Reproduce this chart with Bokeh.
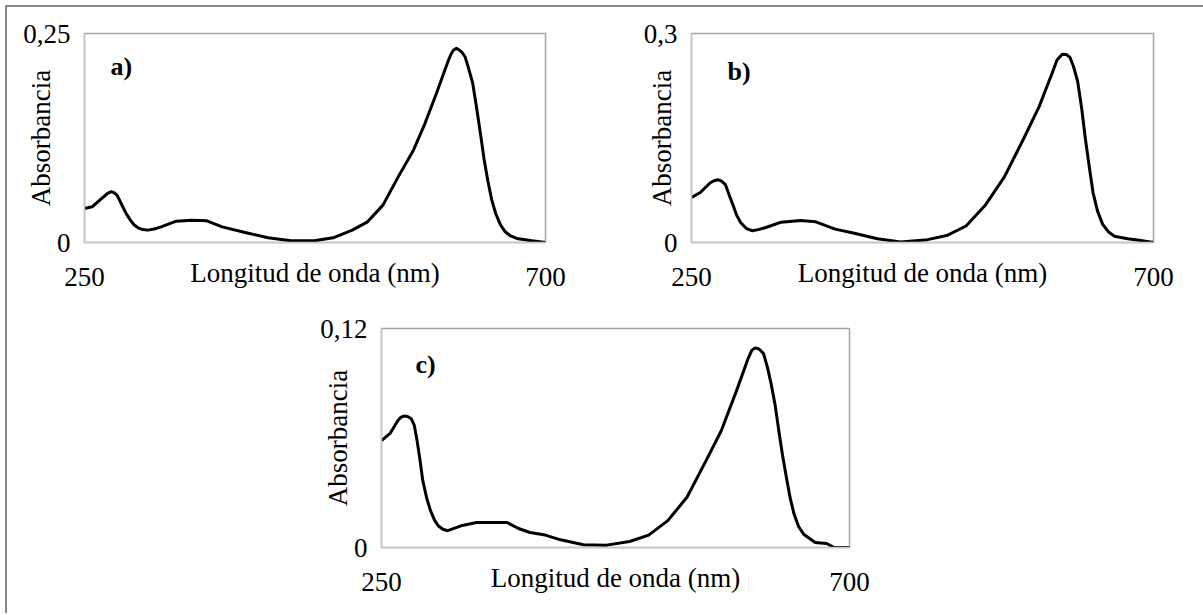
from bokeh.plotting import figure
from bokeh.models import Range1d, FixedTicker, Label, Spacer
from bokeh.layouts import row, column
from bokeh.embed import file_html
from bokeh.resources import INLINE

# ---------------- data ----------------
wl_a = [250.0, 257.5, 264.9, 272.4, 275.0, 276.9, 279.0, 281.7, 284.5, 287.3, 291.0, 294.8,
        298.5, 302.3, 307.0, 311.6, 318.0, 324.7, 339.6, 354.6, 369.5, 384.4, 406.8, 429.2,
        451.6, 474.0, 492.7, 511.4, 526.3, 541.3, 556.2, 571.1, 582.3, 593.5, 604.7, 607.8,
        610.3, 613.0, 615.9, 618.5, 621.5, 625.0, 629.0, 632.5, 636.5, 640.0, 643.9, 647.5,
        651.4, 656.0, 660.7, 666.0, 671.9, 686.9, 700.0]
abs_a = [0.0407, 0.0427, 0.0507, 0.0586, 0.0603, 0.0606, 0.0595, 0.0567, 0.0500, 0.0427,
         0.0340, 0.0267, 0.0210, 0.0176, 0.0155, 0.0148, 0.0162, 0.0187, 0.0255, 0.0267,
         0.0259, 0.0187, 0.0120, 0.0056, 0.0020, 0.0020, 0.0056, 0.0148, 0.0247, 0.0447,
         0.0785, 0.1104, 0.1423, 0.1783, 0.2162, 0.2255, 0.2302, 0.2322, 0.2302, 0.2275,
         0.2222, 0.2080, 0.1903, 0.1630, 0.1305, 0.1000, 0.0726, 0.0510, 0.0347, 0.0210,
         0.0128, 0.0078, 0.0048, 0.0020, 0.0]

wl_b = [250.0, 258.6, 268.0, 272.0, 275.5, 279.0, 283.0, 286.5, 290.5, 294.0, 298.0, 303.5,
        309.3, 315.0, 322.4, 337.4, 356.1, 371.1, 389.9, 408.6, 431.1, 453.6, 479.9, 498.6,
        517.4, 536.1, 554.9, 573.6, 588.6, 601.8, 606.0, 611.1, 615.0, 618.6, 622.0, 626.1,
        630.0, 633.6, 637.5, 641.1, 645.5, 650.5, 656.0, 661.8, 674.9, 686.1, 700.0]
abs_b = [0.0648, 0.0717, 0.0854, 0.0887, 0.0900, 0.0885, 0.0831, 0.0690, 0.0534, 0.0390,
         0.0283, 0.0200, 0.0169, 0.0185, 0.0215, 0.0292, 0.0315, 0.0297, 0.0192, 0.0132,
         0.0055, 0.0009, 0.0041, 0.0100, 0.0237, 0.0534, 0.0945, 0.1493, 0.1950, 0.2452,
         0.2620, 0.2703, 0.2700, 0.2658, 0.2530, 0.2315, 0.1930, 0.1493, 0.1080, 0.0717,
         0.0450, 0.0260, 0.0155, 0.0091, 0.0055, 0.0032, 0.0]

wl_c = [250.0, 258.5, 265.8, 268.5, 271.3, 275.0, 278.7, 281.5, 284.2, 287.0, 289.7, 293.5,
        297.1, 301.0, 304.5, 309.0, 313.7, 326.5, 341.3, 356.0, 370.7, 381.7, 392.8, 407.5,
        422.2, 444.3, 466.4, 488.5, 506.9, 525.3, 543.7, 562.1, 576.8, 591.5, 602.5, 606.0,
        609.2, 613.0, 617.3, 621.0, 624.6, 628.5, 632.0, 635.5, 639.3, 643.0, 646.7, 651.0,
        655.9, 667.0, 678.0, 685.3, 700.0]
abs_c = [0.0586, 0.0627, 0.0696, 0.0713, 0.0720, 0.0718, 0.0705, 0.0670, 0.0586, 0.0480,
         0.0366, 0.0270, 0.0202, 0.0150, 0.0119, 0.0100, 0.0092, 0.0119, 0.0137, 0.0137,
         0.0137, 0.0104, 0.0082, 0.0068, 0.0042, 0.0015, 0.0013, 0.0033, 0.0068, 0.0147,
         0.0275, 0.0476, 0.0641, 0.0861, 0.1035, 0.1080, 0.1094, 0.1088, 0.1063, 0.0990,
         0.0898, 0.0780, 0.0641, 0.0510, 0.0385, 0.0270, 0.0183, 0.0115, 0.0073, 0.0027,
         0.0022, 0.0, 0.0]

panel_tags = ["a)", "b)", "c)"]
y_max = [0.25, 0.3, 0.12]
y_max_labels = ["0,25", "0,3", "0,12"]
x_ticks = [250, 700]
x_tick_labels = ["250", "700"]
x_title = "Longitud de onda (nm)"
y_title = "Absorbancia"

FONT = "Liberation Serif"
FS = "27px"


def make_panel(wl, ab, ymax, ymax_label, tag, tag_x, tag_y,
               width, height, bl, br, bt, bb):
    p = figure(width=width, height=height, output_backend="svg", toolbar_location=None,
               x_range=Range1d(250, 700), y_range=Range1d(0, ymax),
               min_border_left=bl, min_border_right=br,
               min_border_top=bt, min_border_bottom=bb,
               background_fill_color="white", border_fill_color="white")
    p.line(wl, ab, line_color="black", line_width=3, line_join="round")
    p.grid.visible = False
    p.outline_line_color = "#a6a6a6"
    p.outline_line_width = 1.5

    for ax in (p.xaxis[0], p.yaxis[0]):
        ax.major_tick_out = 0
        ax.major_tick_in = 0
        ax.minor_tick_out = 0
        ax.minor_tick_in = 0
        ax.axis_line_color = "#c8c8c8"
        ax.axis_line_width = 1.5
        ax.major_label_text_font = FONT
        ax.major_label_text_font_size = FS
        ax.major_label_text_color = "black"
        ax.axis_label_text_font = FONT
        ax.axis_label_text_font_size = FS
        ax.axis_label_text_font_style = "normal"
        ax.axis_label_text_color = "black"

    xa = p.xaxis[0]
    xa.ticker = FixedTicker(ticks=x_ticks)
    xa.major_label_overrides = {x_ticks[0]: x_tick_labels[0], x_ticks[1]: x_tick_labels[1]}
    xa.major_label_standoff = 25
    xa.axis_label = x_title
    xa.axis_label_standoff = -31

    ya = p.yaxis[0]
    ya.ticker = FixedTicker(ticks=[0, ymax])
    ya.major_label_overrides = {0: "0", ymax: ymax_label}
    ya.major_label_standoff = 14
    ya.axis_label = y_title
    ya.axis_label_standoff = -36

    p.add_layout(Label(x=tag_x, y=tag_y, text=tag, text_font=FONT, text_font_size="26px",
                       text_font_style="bold", text_color="black",
                       text_baseline="top", text_align="left"))
    return p


pa = make_panel(wl_a, abs_a, y_max[0], y_max_labels[0], panel_tags[0], 275.4, 0.2273,
                593, 300, 77, 55, 26, 65)
pb = make_panel(wl_b, abs_b, y_max[1], y_max_labels[1], panel_tags[1], 285.0, 0.2658,
                603, 300, 91, 50, 26, 55)
pc = make_panel(wl_c, abs_c, y_max[2], y_max_labels[2], panel_tags[2], 282.7, 0.108,
                589, 306, 81, 40, 21, 66)

layout = column(
    row(pa, pb),
    row(Spacer(width=293, height=306), pc),
    styles={"border-left": "2px solid #888888", "border-top": "2px solid #888888",
            "margin-left": "5px", "margin-top": "5px", "background-color": "white"},
)

open("out.html", "w").write(file_html(layout, INLINE))
